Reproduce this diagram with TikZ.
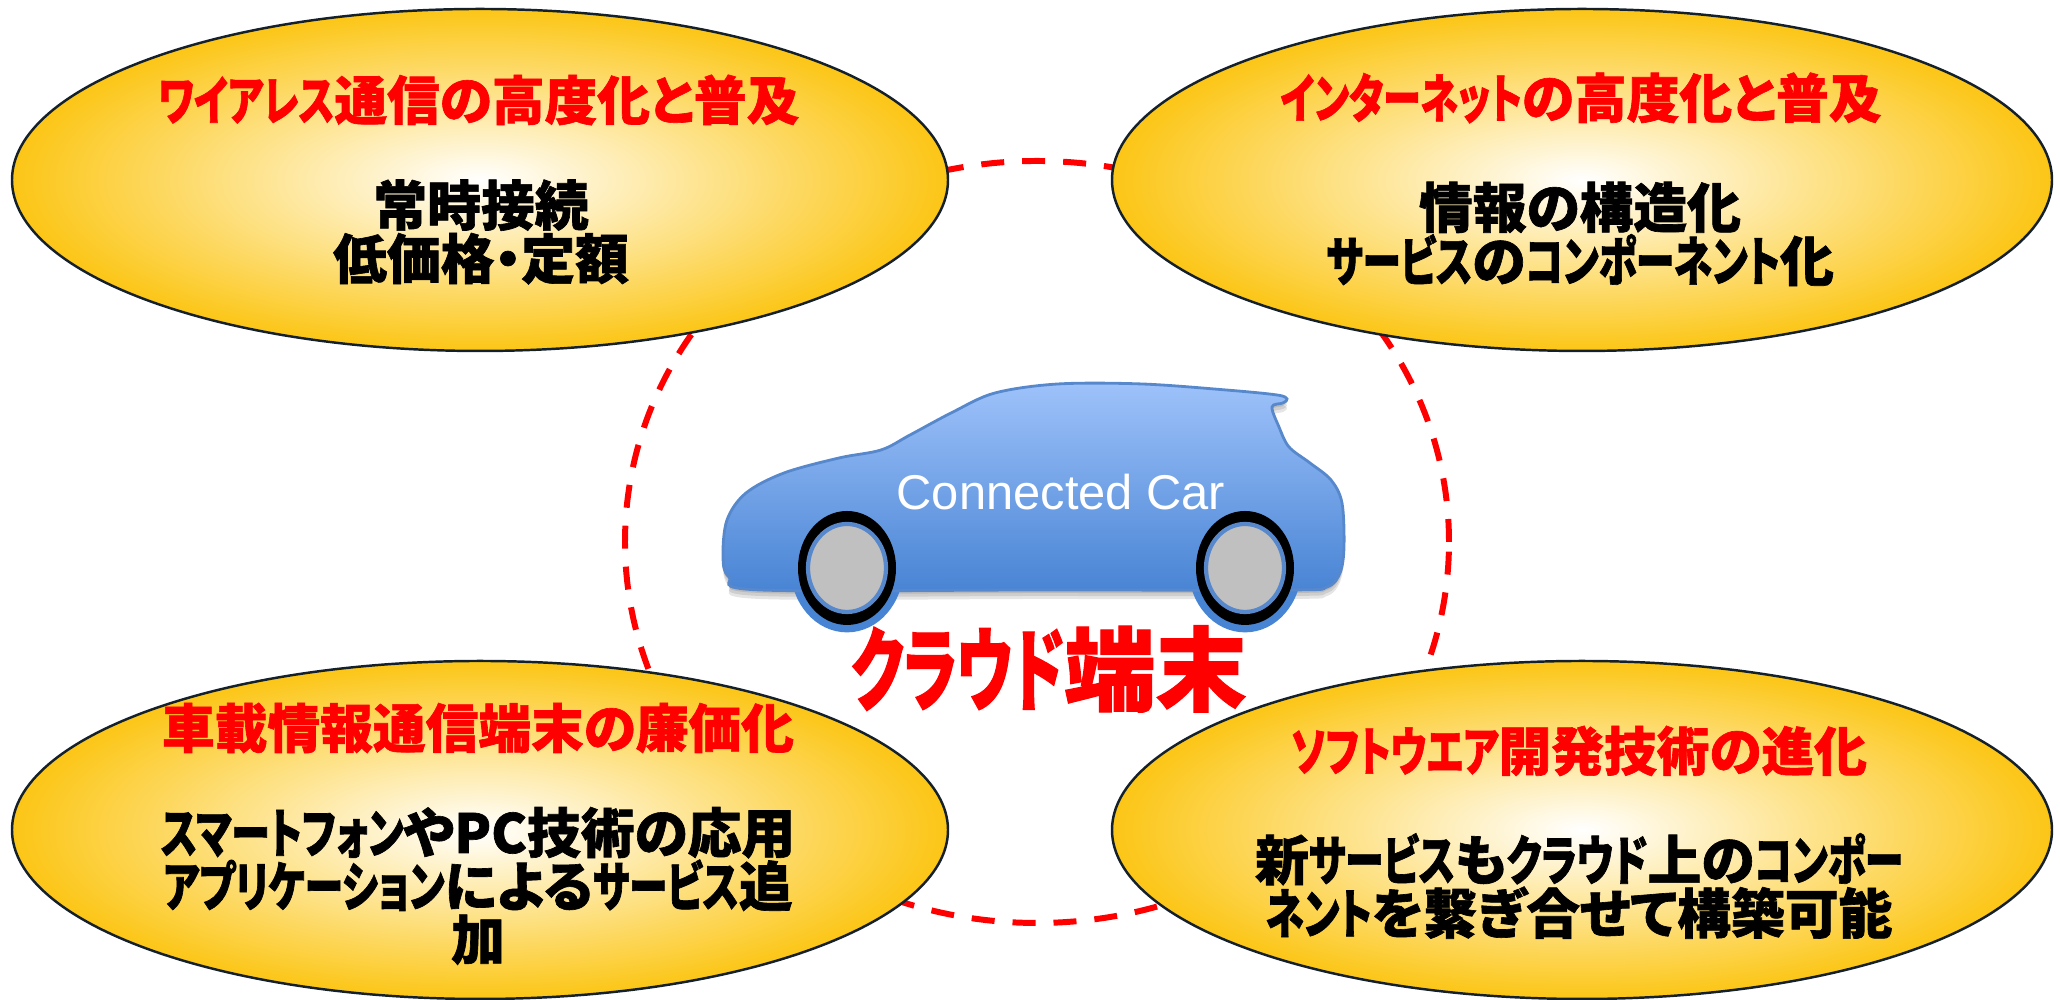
\documentclass[tikz,border=0pt]{standalone}
\usepackage{fontspec}
\newfontfamily\jpfont{Noto Sans CJK JP}[RawFeature=+palt, BoldFeatures={FakeBold=1.2}]
\newfontfamily\carfont{Liberation Sans}
\usetikzlibrary{shapes.geometric,positioning}

% narrow katakana runs
\newcommand\kana[2][0.72]{{\addfontfeatures{FakeStretch=#1}#2}}

% outline of the car body
\def\carOutline{plot[smooth cycle, tension=0.55]
  coordinates {(7.29,4.23) (7.23,4.43) (7.27,4.80) (7.46,5.07) (7.84,5.27)
    (8.39,5.42) (8.81,5.50) (9.10,5.65) (9.53,5.88) (9.95,6.07) (10.58,6.16)
    (11.42,6.16) (12.26,6.10) (12.77,6.05) (12.87,6.01) (12.83,5.97)
    (12.72,5.93) (12.79,5.73) (12.89,5.53) (13.10,5.37) (13.31,5.20)
    (13.42,4.97) (13.44,4.53) (13.40,4.27) (13.27,4.13) (12.90,4.10)
    (10.40,4.10) (7.60,4.10)}}

\definecolor{gold}{RGB}{252,198,22}
\definecolor{rim}{RGB}{20,32,44}
\definecolor{carlight}{RGB}{158,194,250}
\definecolor{cardark}{RGB}{72,132,212}
\definecolor{caredge}{RGB}{88,136,204}
\definecolor{hub}{RGB}{192,192,192}

\tikzset{
  bubble/.style={ellipse, draw=rim, line width=0.7pt, inner color=white,
    outer color=gold, minimum width=9.36cm, minimum height=3.42cm},
  heading/.style={text=red, font=\jpfont\bfseries\fontsize{15pt}{16pt}\selectfont},
  detail/.style={align=center, font=\jpfont\bfseries\fontsize{15.3pt}{15.2pt}\selectfont},
  ring/.style={ellipse, draw=red, line width=1.7pt, dash pattern=on 0.23cm off 0.18cm,
    minimum width=8.24cm, minimum height=7.62cm},
}

\begin{document}
\begin{tikzpicture}
  \useasboundingbox (0,0) rectangle (20.6,10);

  % dashed ring behind everything
  \node[ring] (cloud) at (10.37,4.58) {};

  % the four drivers
  \node[bubble] (wireless) at (4.80,8.20) {};
  \node[bubble, minimum width=9.40cm] (internet) at (15.82,8.20) {};
  \node[bubble, minimum height=3.38cm] (device) at (4.80,1.70) {};
  \node[bubble, minimum width=9.40cm, minimum height=3.38cm] (software) at (15.82,1.70) {};

  % car: soft shadow, wheel arches, body, wheels
  \foreach \dy in {0.03,0.06,0.09}
    \fill[black, opacity=0.1, yshift=-\dy cm] \carOutline;
  \begin{scope}[every path/.style={draw=caredge, line width=0.8pt}]
    \fill[cardark] (8.47,4.32) ellipse [x radius=0.55, y radius=0.63];
    \fill[cardark] (12.45,4.32) ellipse [x radius=0.55, y radius=0.63];
    \shade[top color=carlight, bottom color=cardark] \carOutline;
  \end{scope}
  \foreach \wx in {8.47,12.45} {
    \fill[black] (\wx,4.32) ellipse [x radius=0.49, y radius=0.57];
    \filldraw[fill=hub, draw=caredge, line width=1.2pt] (\wx,4.32) ellipse [x radius=0.39, y radius=0.44];
  }
  \node[text=white, font=\carfont\fontsize{13.9pt}{16pt}\selectfont] (carLabel) at (10.61,5.08) {Connected Car};
  \node[text=red, font=\jpfont\bfseries\fontsize{26pt}{28pt}\selectfont] (terminal) at (10.49,3.31) {\kana[0.64]{クラウド}端末};

  % texts in the bubbles
  \node[heading] (wirelessHead) at (4.79,9.00) {\kana{ワイアレス}通信の高度化と普及};
  \node[detail] (wirelessBody) at (4.81,7.68) {常時接続\\低価格・定額};
  \node[heading] (internetHead) at (15.81,9.02) {\kana{インターネット}の高度化と普及};
  \node[detail] (internetBody) at (15.80,7.66) {情報の構造化\\\kana{サービス}の\kana{コンポーネント}化};
  \node[heading] (deviceHead) at (4.78,2.72) {車載情報通信端末の廉価化};
  \node[detail] (deviceBody) at (4.78,1.14) {\kana{スマートフォン}やPC技術の応用\\\kana{アプリケーション}による\kana{サービス}追\\加};
  \node[heading] (softwareHead) at (15.79,2.49) {\kana{ソフトウエア}開発技術の進化};
  \node[detail] (softwareBody) at (15.79,1.14) {新\kana{サービス}も\kana{クラウド}上の\kana{コンポー}\\\kana{ネント}を繋ぎ合せて構築可能};
\end{tikzpicture}
\end{document}
